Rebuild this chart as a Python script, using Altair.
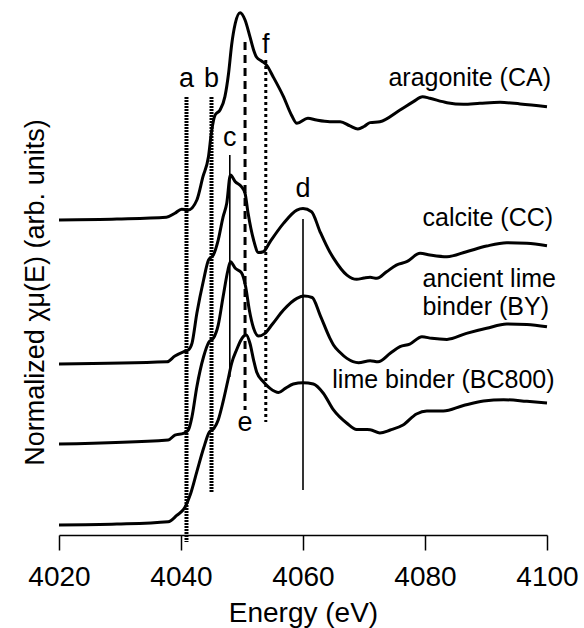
import altair as alt
import pandas as pd

FONT = "Liberation Sans"

# ---- spectra (normalized mu(E)) ----
e_ca = [4020, 4029.5, 4037.6, 4039.0, 4040.1, 4041.2, 4042.6, 4043.6, 4044.5, 4045.0, 4045.6,
        4046.4, 4047.2, 4047.8, 4048.3, 4048.9, 4049.7, 4050.5, 4051.3, 4051.9, 4052.4, 4053.2,
        4054.0, 4055.1, 4056.8, 4058.1, 4059.0, 4060.8, 4062.2, 4064.4, 4066.1, 4067.7, 4069.0,
        4070.0, 4071.0, 4072.6, 4075.9, 4078.1, 4079.6, 4080.8, 4083.6, 4086.3, 4089.0, 4092.3,
        4095.6, 4100.0]
mu_ca = [0.000, 0.008, 0.023, 0.057, 0.091, 0.085, 0.169, 0.367, 0.536, 0.746, 0.890,
         0.932, 1.045, 1.243, 1.483, 1.667, 1.757, 1.695, 1.553, 1.441, 1.379, 1.347,
         1.314, 1.214, 1.045, 0.890, 0.819, 0.862, 0.847, 0.833, 0.833, 0.797, 0.771,
         0.792, 0.825, 0.833, 0.932, 1.003, 1.045, 1.031, 0.994, 0.981, 0.989, 0.997,
         0.983, 0.960]

e_cc = [4020, 4037.7, 4039.0, 4040.4, 4041.2, 4041.8, 4042.6, 4043.7, 4044.5, 4045.3, 4046.1,
        4046.9, 4047.5, 4048.1, 4048.9, 4049.9, 4050.5, 4051.0, 4051.9, 4052.7, 4053.5, 4054.6,
        4056.8, 4059.0, 4060.0, 4061.4, 4062.8, 4064.4, 4065.0, 4067.2, 4068.8, 4070.0, 4071.0,
        4072.1, 4073.7, 4075.3, 4077.0, 4079.2, 4080.8, 4083.6, 4086.8, 4090.1, 4093.4, 4096.7,
        4100.0]
mu_cc = [0.000, 0.019, 0.068, 0.104, 0.119, 0.175, 0.430, 0.712, 0.881, 0.924, 1.051,
         1.248, 1.362, 1.602, 1.545, 1.503, 1.447, 1.277, 1.051, 0.945, 0.952, 1.036,
         1.192, 1.305, 1.318, 1.291, 1.121, 0.949, 0.898, 0.754, 0.718, 0.729, 0.735,
         0.726, 0.782, 0.839, 0.867, 0.938, 0.924, 0.909, 0.952, 1.000, 1.028, 1.023,
         1.003]

e_by = [4020, 4037.9, 4039.0, 4040.4, 4041.2, 4041.8, 4042.6, 4043.7, 4044.6, 4045.3, 4046.1,
        4046.9, 4047.7, 4048.1, 4048.9, 4049.9, 4050.6, 4051.2, 4051.9, 4052.7, 4053.7, 4055.0,
        4056.8, 4059.0, 4060.2, 4061.5, 4062.8, 4064.4, 4065.0, 4066.0, 4067.2, 4069.1, 4071.0,
        4072.3, 4074.3, 4075.9, 4077.5, 4079.5, 4081.1, 4083.6, 4086.8, 4090.1, 4093.4, 4096.7,
        4100.0]
mu_by = [0.000, 0.034, 0.076, 0.091, 0.119, 0.231, 0.486, 0.740, 0.867, 0.896, 1.008,
         1.248, 1.475, 1.545, 1.489, 1.453, 1.333, 1.136, 0.981, 0.915, 0.936, 1.017,
         1.136, 1.235, 1.254, 1.242, 1.093, 0.898, 0.839, 0.780, 0.726, 0.689, 0.706,
         0.697, 0.769, 0.825, 0.847, 0.909, 0.896, 0.887, 0.938, 0.981, 1.017, 1.014,
         0.994]

e_bc = [4020, 4029.5, 4037.9, 4039.3, 4040.7, 4041.5, 4042.6, 4043.7, 4044.6, 4045.4, 4046.1,
        4046.9, 4047.7, 4048.3, 4049.1, 4050.2, 4050.7, 4051.3, 4051.9, 4052.4, 4053.5, 4054.6,
        4056.0, 4057.1, 4058.4, 4060.0, 4061.7, 4063.3, 4065.0, 4067.2, 4068.8, 4071.0, 4072.6,
        4074.3, 4076.4, 4078.6, 4080.3, 4083.0, 4086.3, 4089.6, 4092.9, 4096.7, 4100.0]
mu_bc = [0.000, 0.008, 0.028, 0.081, 0.155, 0.254, 0.452, 0.650, 0.784, 0.819, 0.890,
         1.045, 1.229, 1.370, 1.483, 1.596, 1.610, 1.540, 1.398, 1.297, 1.214, 1.158,
         1.123, 1.158, 1.195, 1.206, 1.195, 1.119, 0.975, 0.862, 0.809, 0.808, 0.780,
         0.805, 0.847, 0.941, 0.966, 0.966, 1.013, 1.051, 1.062, 1.048, 1.034]

series_names = ["CA", "CC", "BY", "BC800"]
series_offsets = [2.585, 1.364, 0.686, 0.0]
series_energy = [e_ca, e_cc, e_by, e_bc]
series_mu = [mu_ca, mu_cc, mu_by, mu_bc]

rows = []
for name, off, es, ms in zip(series_names, series_offsets, series_energy, series_mu):
    for i, (e, m) in enumerate(zip(es, ms)):
        rows.append({"series": name, "order": i, "energy": e, "y": m + off})
spec_df = pd.DataFrame(rows)

# ---- marker lines a-f ----
mark_ids = ["a", "b", "c", "d", "e", "f"]
mark_energy = [4040.9, 4045.0, 4048.0, 4060.0, 4050.5, 4053.9]
mark_top = [3.627, 3.627, 3.136, 2.593, 4.093, 3.941]
mark_bottom = [-0.144, 0.280, 1.254, 0.297, 0.975, 0.873]
mark_label_y = [3.712, 3.712, 3.214, 2.782, 0.799, 4.003]
mark_style = ["fine", "fine", "solid", "solid", "dash", "dot"]

marks_df = pd.DataFrame({"id": mark_ids, "energy": mark_energy, "top": mark_top,
                         "bottom": mark_bottom, "ly": mark_label_y, "style": mark_style})

# ---- series labels ----
label_text = ["aragonite (CA)", "calcite (CC)", "ancient lime", "binder (BY)", "lime binder (BC800)"]
label_x = [4074.0, 4079.6, 4079.6, 4079.6, 4064.8]
label_y = [3.720, 2.536, 2.014, 1.780, 1.158]
labels_df = pd.DataFrame({"text": label_text, "energy": label_x, "y": label_y})

xscale = alt.Scale(domain=[4020, 4100], nice=False, zero=False)
yscale = alt.Scale(domain=[-0.0847, 4.449], nice=False, zero=False)

x_axis = alt.Axis(values=[4020, 4040, 4060, 4080, 4100], format="d", grid=False,
                  domainColor="black", domainWidth=1.5, tickColor="black", tickWidth=1.5,
                  tickSize=15, labelFontSize=28, labelFont=FONT, labelColor="black",
                  labelPadding=13, labelFlush=False, labelOverlap=False,
                  title="Energy (eV)", titleFontSize=28, titleFont=FONT,
                  titleFontWeight="normal", titleColor="black", titlePadding=8)
y_axis = alt.Axis(title="Normalized χμ(E) (arb. units)", domain=False, ticks=False,
                  labels=False, grid=False, titleFontSize=27, titleFont=FONT,
                  titleFontWeight="normal", titleColor="black", titlePadding=10, titleY=292)

lines = alt.Chart(spec_df).mark_line(color="black", strokeWidth=3, interpolate="monotone").encode(
    x=alt.X("energy:Q", scale=xscale, axis=x_axis),
    y=alt.Y("y:Q", scale=yscale, axis=y_axis),
    detail="series:N",
    order="order:Q",
)

def rules(style, **kw):
    return alt.Chart(marks_df).transform_filter(alt.datum.style == style).mark_rule(
        color="black", **kw).encode(
        x=alt.X("energy:Q", scale=xscale),
        y=alt.Y("top:Q", scale=yscale),
        y2="bottom:Q",
    )

r_fine = rules("fine", strokeWidth=4, strokeDash=[2, 1])
r_solid = rules("solid", strokeWidth=1.6)
r_dash = rules("dash", strokeWidth=3, strokeDash=[8, 5])
r_dot = rules("dot", strokeWidth=3, strokeDash=[3, 3])

letters = alt.Chart(marks_df).mark_text(fontSize=27, font=FONT, color="black", align="center",
                                        baseline="alphabetic").encode(
    x=alt.X("energy:Q", scale=xscale),
    y=alt.Y("ly:Q", scale=yscale),
    text="id:N",
)

names = alt.Chart(labels_df).mark_text(fontSize=25, font=FONT, color="black", align="left",
                                       baseline="alphabetic").encode(
    x=alt.X("energy:Q", scale=xscale),
    y=alt.Y("y:Q", scale=yscale),
    text="text:N",
)

chart = alt.layer(lines, r_fine, r_solid, r_dash, r_dot, letters, names).properties(
    width=488, height=535,
    autosize=alt.AutoSizeParams(type="none"),
    padding={"left": 59, "top": 0, "right": 37, "bottom": 93},
    background="white",
).configure_view(stroke=None)

chart.save("out.html", embed_options={"renderer": "svg", "actions": False})
